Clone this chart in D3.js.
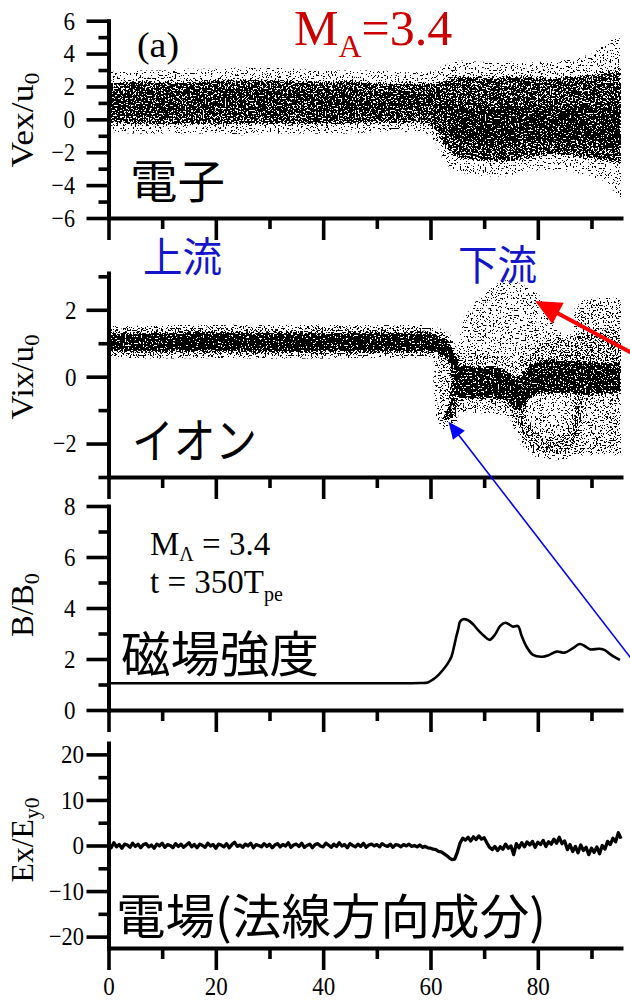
<!DOCTYPE html>
<html><head><meta charset="utf-8">
<script src="https://cdn.jsdelivr.net/npm/d3@7"></script>
<style>
html,body{margin:0;padding:0;background:#fff;}
svg{display:block;}
</style></head><body>
<svg id="c" width="630" height="1003"></svg>
<script>
// ---------------- DATA ----------------
const xDomain = [0, 95.5];
const xMajor = [0, 20, 40, 60, 80];
const xMinor = [10, 30, 50, 70, 90];

const vexDomain = [-6, 6], vexMajor = [-6,-4,-2,0,2,4,6], vexMinor = [-5,-3,-1,1,3,5];
const vixDomain = [-3, 3.1], vixMajor = [-2,0,2], vixMinor = [-3,-1,1,3];
const bDomain = [0, 8], bMajor = [0,2,4,6,8], bMinor = [1,3,5,7];
const exDomain = [-22.5, 22.5], exMajor = [-20,-10,0,10,20], exMinor = [-15,-5,5,15];

// electron phase space (envelopes of particle cloud, Vex/u0)
const eX       = [0,   5,   10,  15,  20,  25,  30,  35,  40,  45,  50,  55,  59,  61,  62.5, 64,  66,  70,  74,  78,  82,  86,  90,  93,  95.5];
const eHaloTop = [2.8, 2.9, 2.9, 3.0, 3.0, 3.1, 3.1, 3.0, 2.9, 2.9, 2.9, 2.8, 2.8, 2.9, 3.2,  3.4, 3.5, 3.4, 3.4, 3.5, 3.4, 3.6, 3.9, 4.6, 5.2];
const eBodyTop = [2.2, 2.3, 2.3, 2.3, 2.4, 2.4, 2.4, 2.3, 2.3, 2.3, 2.2, 2.2, 2.2, 2.2, 2.4,  2.6, 2.6, 2.5, 2.6, 2.6, 2.5, 2.6, 2.7, 2.9, 3.1];
const eCoreTop = [1.7, 1.8, 1.8, 1.8, 1.9, 1.9, 1.9, 1.8, 1.8, 1.8, 1.7, 1.7, 1.6, 1.5, 1.2,  1.0, 1.0, 0.9, 0.9, 1.0, 0.9, 0.9, 1.0, 1.1, 1.2];
const eCoreBot = [0.3, 0.3, 0.2, 0.3, 0.3, 0.3, 0.3, 0.3, 0.3, 0.3, 0.3, 0.3, 0.3, 0.1, -0.5, -1.1, -1.4, -1.6, -1.7, -1.5, -1.3, -1.4, -1.5, -1.6, -1.7];
const eBodyBot = [-0.2,-0.3,-0.3,-0.3,-0.3,-0.3,-0.3,-0.3,-0.3,-0.3,-0.2,-0.2,-0.2,-0.6,-1.5, -2.1, -2.4, -2.5, -2.6, -2.4, -2.1, -2.2, -2.4, -2.5, -2.7];
const eHaloBot = [-0.7,-0.8,-0.8,-0.8,-0.8,-0.9,-0.8,-0.8,-0.8,-0.8,-0.7,-0.7,-0.7,-1.3,-2.4, -3.0, -3.2, -3.4, -3.4, -3.1, -3.0, -3.1, -3.4, -3.8, -4.8];
const eDeepCore = [[63,0.6],[70,0.7],[80,0.6],[95.5,0.7],[95.5,-1.3],[80,-1.2],[70,-1.4],[64,-1.0]];

// ion phase space (Vix/u0)
const ionBeamX      = [0,    10,   20,   30,   40,   50,   55,   59,   61,   62.2, 63.2, 64,   64.8, 65.5];
const ionBeamTop    = [1.28, 1.3,  1.32, 1.3,  1.3,  1.3,  1.3,  1.3,  1.25, 1.18, 1.05, 0.85, 0.5,  0.3];
const ionBeamBot    = [0.78, 0.76, 0.76, 0.76, 0.76, 0.76, 0.76, 0.76, 0.74, 0.68, 0.55, 0.3,  -0.2, -0.6];
const ionBeamHaloTop= [1.45, 1.48, 1.5,  1.48, 1.5,  1.48, 1.48, 1.48, 1.42, 1.35, 1.25, 1.05, 0.7,  0.5];
const ionBeamHaloBot= [0.62, 0.6,  0.62, 0.6,  0.6,  0.62, 0.6,  0.62, 0.58, 0.5,  0.35, 0.1,  -0.4, -0.8];
const ionDownX   = [64.5, 66,   68,   70,   72,   74,   75.5, 77,   78.5, 80,   83,   86,   89,   92,   95.5];
const ionDownTop = [0.35, 0.35, 0.3,  0.3,  0.3,  0.2,  0.0,  0.05, 0.35, 0.45, 0.5,  0.45, 0.45, 0.4,  0.4];
const ionDownBot = [-0.55,-0.65,-0.65,-0.65,-0.65,-0.7, -0.95,-0.95,-0.65,-0.5, -0.5, -0.5, -0.55,-0.5, -0.5];
const ionDownHalo = [[64.5,0.7],[70,0.75],[74,0.6],[76,0.4],[78,0.7],[78,-1.0],[76,-1.3],[74,-1.1],[70,-1.05],[65,-1.0]];
const ionHookCore = [[63.6,0.2],[65.2,-0.1],[65.0,-0.8],[64.3,-1.2],[62.6,-1.35],[62.5,-1.15],[63.6,-0.8],[63.8,-0.3]];
const ionHookCloud = [[61.0,0.5],[62.8,0.7],[64.5,0.2],[65.3,-0.8],[64.5,-1.45],[62.5,-1.55],[61.3,-1.2],[60.8,-0.3]];
const ionUpperBlob = [[64.5,0.3],[65.5,1.0],[66.2,1.7],[68.5,2.2],[71.7,2.7],[74,2.85],[76,2.8],[79.7,2.5],[82.2,1.9],[84,1.3],[86,0.9],[88,0.6],[88,0.3]];
const ionUpperBranch = [[76,0.3],[79,0.8],[82,1.1],[86,1.2],[90,1.3],[95.5,1.4],[95.5,0.3],[78,0.3]];
const ionRightColumn = [[87,2.0],[89,2.3],[95.5,2.3],[95.5,-2.3],[88,-2.3],[86.5,-1.8]];
const ionLowerSparse = [[74.5,-0.5],[75.2,-1.3],[77,-2.0],[80,-2.4],[84,-2.45],[88,-2.35],[88,-0.5]];
const ionLowerArc = [[75,-0.6],[75.8,-1.3],[77.5,-1.9],[80,-2.25],[83,-2.35],[86,-2.2],[87.5,-1.8],[88.3,-1.2],[88.5,-0.6],
                     [87,-0.6],[86.5,-1.2],[85.2,-1.6],[83,-1.85],[80.5,-1.8],[78.6,-1.5],[77.5,-1.0],[77,-0.6]];

// magnetic field B/B0
const bX = [0,10,20,30,40,50,58,59.5,60.5,61.5,62.3,63.2,63.9,64.4,64.8,65.2,65.5,66.1,67,68,69,70,71,72,73,73.9,74.7,75.4,76.3,77,77.9,79.1,80.9,82,83.5,85,86.5,87.8,88.8,89.7,91.5,92.5,93.4,94.5,95.3];
const bV = [1.05,1.05,1.05,1.05,1.05,1.05,1.06,1.08,1.2,1.38,1.57,1.82,2.09,2.5,2.87,3.2,3.46,3.56,3.52,3.35,3.1,2.9,2.75,2.95,3.3,3.42,3.35,3.27,3.29,2.9,2.48,2.16,2.09,2.15,2.29,2.25,2.42,2.59,2.5,2.38,2.4,2.35,2.2,2.05,1.96];

// electric field Ex/Ey0, sampled every 0.5 from x = 0
const exStep = 0.5;
const exV = [
 0.4,-0.5,0.6,-0.3,0.2,-0.6,0.3,0.1,-0.4,0.5,
 -0.2,0.3,-0.5,0.2,0.4,-0.3,0.1,-0.6,0.3,-0.1,
 0.5,-0.4,0.2,0.0,-0.5,0.4,-0.2,0.3,-0.4,0.1,
 0.6,-0.3,0.2,-0.5,0.3,0.0,-0.4,0.5,-0.1,0.2,
 -0.6,0.3,0.1,-0.3,0.4,-0.5,0.2,0.7,-0.2,0.1,
 -0.4,0.3,-0.1,0.5,-0.5,0.2,0.0,-0.3,0.4,-0.2,
 0.3,-0.5,0.1,0.4,-0.3,0.2,-0.1,0.6,-0.4,0.1,
 0.3,-0.2,0.5,-0.4,0.0,0.3,-0.5,0.2,0.4,-0.1,
 -0.3,0.5,0.1,-0.4,0.3,-0.2,0.6,-0.1,0.2,-0.5,
 0.4,0.0,-0.3,0.3,-0.2,0.5,-0.4,0.1,0.3,-0.1,
 0.2,-0.3,0.4,0.0,-0.2,0.3,-0.4,0.2,0.1,-0.3,
 0.2,-0.1,0.3,-0.2,0.0,-0.3,0.1,-0.4,-0.2,-0.5,
 -0.6,-0.8,-0.9,-1.3,-1.4,-1.8,-2.2,-2.7,-3.1,-3.0,
 -1.5,0.5,1.6,1.2,1.8,1.0,1.9,1.3,2.1,1.4,
 1.7,0.6,-0.4,-0.9,-0.2,-1.1,-0.3,-0.8,0.3,-0.6,
 -0.1,-2.0,0.4,-0.5,0.6,-0.3,0.8,0.1,0.9,-0.4,
 0.7,0.2,1.1,-0.2,0.8,0.3,1.4,0.5,1.8,0.4,
 1.0,-0.9,0.2,-1.3,-0.2,-1.6,0.1,-1.1,-0.4,-2.0,
 -0.6,-1.5,-0.3,-1.8,0.0,-0.8,0.9,0.2,1.6,0.8,
 2.8,1.5
];

// annotation anchors (data coordinates of the ion panel)
const redArrow  = {tip:[79.5, 2.26], tail:[99, 0.58]};
const blueArrow = {tip:[63.36,-1.35], tail:[99.05,-8.77]};

// ---------------- DRAW ----------------
const svg = d3.select("#c");
const defs = svg.append("defs");
const X0 = 108.5, X1 = 621;
const x = d3.scaleLinear().domain(xDomain).range([X0, X1]);
const yE = d3.scaleLinear().domain(vexDomain).range([218, 20.7]);
const yI = d3.scaleLinear().domain(vixDomain).range([477, 273]);
const yB = d3.scaleLinear().domain(bDomain).range([710, 506]);
const yX = d3.scaleLinear().domain(exDomain).range([948, 743]);

// dithering filter: density (alpha) -> black particle dots
const flt = defs.append("filter").attr("id","dither")
  .attr("filterUnits","userSpaceOnUse").attr("primitiveUnits","userSpaceOnUse")
  .attr("x",0).attr("y",0).attr("width",630).attr("height",1003)
  .attr("color-interpolation-filters","sRGB");
flt.append("feGaussianBlur").attr("in","SourceAlpha").attr("stdDeviation",1.3).attr("result","dens");
flt.append("feTurbulence").attr("type","fractalNoise").attr("baseFrequency",0.6).attr("numOctaves",2).attr("seed",11).attr("result","turb");
flt.append("feColorMatrix").attr("in","turb").attr("type","matrix")
  .attr("values","0 0 0 0 0  0 0 0 0 0  0 0 0 0 0  3.2 0 0 0 -1.1").attr("result","noise");
flt.append("feComposite").attr("in","dens").attr("in2","noise").attr("operator","arithmetic")
  .attr("k1",0).attr("k2",1).attr("k3",-1).attr("k4",0).attr("result","diff");
flt.append("feComponentTransfer").attr("in","diff").append("feFuncA").attr("type","linear").attr("slope",40).attr("intercept",0);

function clip(id, y) {
  const r = y.range();
  defs.append("clipPath").attr("id", id).append("rect")
    .attr("x", X0).attr("y", r[1]).attr("width", X1 - X0).attr("height", r[0] - r[1]);
}
clip("cpE", yE); clip("cpI", yI);

function band(g, y, X, top, bot, dens) {
  const area = d3.area().x((d,i)=>x(X[i])).y0((d,i)=>y(bot[i])).y1((d,i)=>y(top[i]));
  g.append("path").attr("d", area(X)).attr("fill","#000").attr("fill-opacity", dens);
}
function poly(g, y, pts, dens) {
  const line = d3.line().x(d=>x(d[0])).y(d=>y(d[1])).curve(d3.curveLinearClosed);
  g.append("path").attr("d", line(pts)).attr("fill","#000").attr("fill-opacity", dens);
}

// electrons
const gE = svg.append("g").attr("clip-path","url(#cpE)").append("g").attr("filter","url(#dither)");
band(gE, yE, eX, eHaloTop, eHaloBot, 0.08);
band(gE, yE, eX, eBodyTop, eBodyBot, 0.75);
band(gE, yE, eX, eCoreTop, eCoreBot, 0.4);
poly(gE, yE, eDeepCore, 0.6);

// ions
const gI = svg.append("g").attr("clip-path","url(#cpI)").append("g").attr("filter","url(#dither)");
poly(gI, yI, ionUpperBlob, 0.1);
poly(gI, yI, ionRightColumn, 0.18);
poly(gI, yI, ionLowerSparse, 0.12);
poly(gI, yI, ionHookCloud, 0.2);
poly(gI, yI, ionDownHalo, 0.2);
poly(gI, yI, ionUpperBranch, 0.3);
poly(gI, yI, ionLowerArc, 0.35);
band(gI, yI, ionBeamX, ionBeamHaloTop, ionBeamHaloBot, 0.35);
band(gI, yI, ionBeamX, ionBeamTop, ionBeamBot, 1);
band(gI, yI, ionDownX, ionDownTop, ionDownBot, 0.95);
poly(gI, yI, ionHookCore, 0.75);

// B line
svg.append("path")
  .attr("d", d3.line().x((d,i)=>x(bX[i])).y(d=>yB(d)).curve(d3.curveCatmullRom)(bV))
  .attr("fill","none").attr("stroke","#000").attr("stroke-width",2.6).attr("stroke-linejoin","round");

// Ex line
svg.append("path")
  .attr("d", d3.line().x((d,i)=>x(i*exStep)).y(d=>yX(d))(exV))
  .attr("fill","none").attr("stroke","#000").attr("stroke-width",3.3).attr("stroke-linejoin","round");

// axes
const FONT = "'Liberation Serif', 'Times New Roman', serif";
const fmt = d3.format("d");
function axes(y, major, minor, pad, xLabels) {
  const g = svg.append("g");
  const yb = y.range()[0];
  const ya = g.append("g").attr("transform",`translate(${X0},0)`);
  ya.call(d3.axisLeft(y).tickValues(major).tickSize(22).tickSizeOuter(0).tickPadding(pad).tickFormat(fmt));
  ya.append("g").call(d3.axisLeft(y).tickValues(minor).tickSize(10).tickFormat("")).select(".domain").remove();
  const xa = g.append("g").attr("transform",`translate(0,${yb})`);
  xa.call(d3.axisBottom(x).tickValues(xMajor).tickSize(22).tickSizeOuter(0).tickPadding(7).tickFormat(xLabels ? fmt : ""));
  xa.append("g").call(d3.axisBottom(x).tickValues(xMinor).tickSize(11).tickFormat("")).select(".domain").remove();
  g.selectAll("g").attr("font-family", FONT).attr("font-size", 26);
  g.selectAll(".domain").attr("stroke","#000").attr("stroke-width",4).attr("stroke-linecap","square");
  g.selectAll(".tick line").attr("stroke","#000").attr("stroke-width",3.6);
  g.selectAll(".tick text").attr("fill","#000").style("font-family",FONT).style("font-size","26px")
    .each(function(){
      const t = this.textContent; if (!t) return;
      const n = t.replace("−","").length, m = t.includes("−") ? 1 : 0;
      d3.select(this).attr("textLength", n*11.5 + m*12).attr("lengthAdjust","spacingAndGlyphs");
    });
}
axes(yE, vexMajor, vexMinor, 11.5, false);
axes(yI, vixMajor, vixMinor, 10, false);
axes(yB, bMajor, bMinor, 11, false);
axes(yX, exMajor, exMinor, 2.5, true);

// y titles
function yTitle(cy, parts, len) {
  const t = svg.append("text").attr("transform",`translate(33,${cy}) rotate(-90)`)
    .attr("text-anchor","middle").style("font-family",FONT).style("font-size","31px")
    .attr("textLength", len).attr("lengthAdjust","spacingAndGlyphs");
  parts.forEach(p => {
    if (p.sub) t.append("tspan").text(p.t).style("font-size","21px").attr("dy",6);
    else t.append("tspan").text(p.t);
  });
}
yTitle(120, [{t:"Vex/u"},{t:"0",sub:true}], 95);
yTitle(377, [{t:"Vix/u"},{t:"0",sub:true}], 85);
yTitle(605, [{t:"B/B"},{t:"0",sub:true}], 64);
yTitle(840, [{t:"Ex/E"},{t:"y0",sub:true}], 85);

// texts
const JP = "'Noto Sans CJK JP', 'Noto Sans CJK SC', sans-serif";
function jp(tx, ty, s, size, len, color) {
  svg.append("text").attr("x",tx).attr("y",ty).text(s)
    .style("font-family",JP).style("font-size",size+"px").attr("fill",color||"#000")
    .attr("textLength",len).attr("lengthAdjust","spacingAndGlyphs");
}
jp(130, 198, "電子", 46, 95);
jp(132, 458, "イオン", 48, 125);
jp(121, 672, "磁場強度", 49, 198);
jp(116, 934, "電場(法線方向成分)", 48, 430);
jp(143, 272, "上流", 41, 79, "#1414c8");
jp(458, 280, "下流", 41, 79, "#1414c8");

svg.append("text").attr("x",137).attr("y",57).text("(a)")
  .style("font-family",FONT).style("font-size","36px").attr("textLength",42).attr("lengthAdjust","spacingAndGlyphs");

const title = svg.append("text").attr("x",294).attr("y",45).attr("fill","#cc0000")
  .style("font-family",FONT).style("font-size","50px");
title.append("tspan").text("M");
title.append("tspan").text("A").style("font-size","32px").attr("dy",12);
title.append("tspan").text("=3.4").attr("dy",-12);

const t1 = svg.append("text").attr("x",150).attr("y",555).style("font-family",FONT).style("font-size","33px");
t1.append("tspan").text("M");
t1.append("tspan").text("Λ").style("font-size","20px").attr("dy",6);
t1.append("tspan").text(" = 3.4").attr("dy",-6);
const t2 = svg.append("text").attr("x",150).attr("y",593).style("font-family",FONT).style("font-size","33px");
t2.append("tspan").text("t = 350T");
t2.append("tspan").text("pe").style("font-size","20px").attr("dy",8);

// arrows
function arrow(a, color, width, L, W) {
  const tip = [x(a.tip[0]), yI(a.tip[1])], tail = [x(a.tail[0]), yI(a.tail[1])];
  const dx = tail[0]-tip[0], dy = tail[1]-tip[1], len = Math.hypot(dx,dy);
  const u = [dx/len, dy/len], n = [-u[1], u[0]];
  const b = [tip[0]+u[0]*L, tip[1]+u[1]*L];
  svg.append("line").attr("x1",tail[0]).attr("y1",tail[1])
    .attr("x2",tip[0]+u[0]*L*0.7).attr("y2",tip[1]+u[1]*L*0.7)
    .attr("stroke",color).attr("stroke-width",width);
  svg.append("path").attr("d",`M${tip}L${b[0]+n[0]*W/2},${b[1]+n[1]*W/2}L${b[0]-n[0]*W/2},${b[1]-n[1]*W/2}Z`)
    .attr("fill",color);
}
arrow(redArrow, "#ff0000", 4, 26, 24);
arrow(blueArrow, "#0000ff", 1.6, 17, 15);
</script></body></html>
